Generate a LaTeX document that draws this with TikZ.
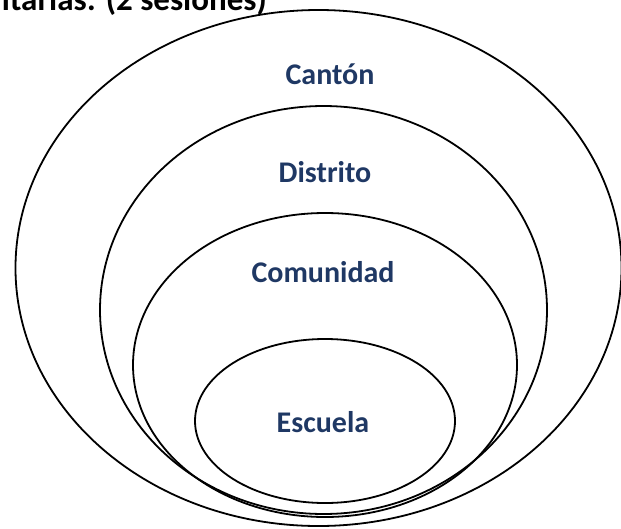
\documentclass[tikz,border=0pt]{standalone}
\usepackage{fontspec}
\setmainfont{Carlito}
\definecolor{navy}{RGB}{31,56,100}
\begin{document}
\begin{tikzpicture}[x=1pt,y=-1pt,
  ring/.style={draw=black,line width=1.8pt},
  lbl/.style={text=navy,font=\fontsize{30}{34}\selectfont\bfseries,inner sep=0pt},
  heading/.style={text=black,font=\fontsize{33}{36}\selectfont\bfseries,inner sep=0pt,anchor=base east}]
\useasboundingbox (0,0) rectangle (621,528);
\clip (0,0) rectangle (621,528);
\node[heading] (head) at (267,10) {comunitarias: (2 sesiones)};
\draw[ring] (318.5,268) ellipse [x radius=303,y radius=258];
\draw[ring] (323.5,310) ellipse [x radius=223.5,y radius=204];
\draw[ring] (325,365) ellipse [x radius=192,y radius=152];
\draw[ring] (325,421) ellipse [x radius=130,y radius=82];
\node[lbl] (canton) at (330,74) {Cantón};
\node[lbl] (distrito) at (325,172) {Distrito};
\node[lbl] (comunidad) at (323,272) {Comunidad};
\node[lbl] (escuela) at (323,422) {Escuela};
\end{tikzpicture}
\end{document}
